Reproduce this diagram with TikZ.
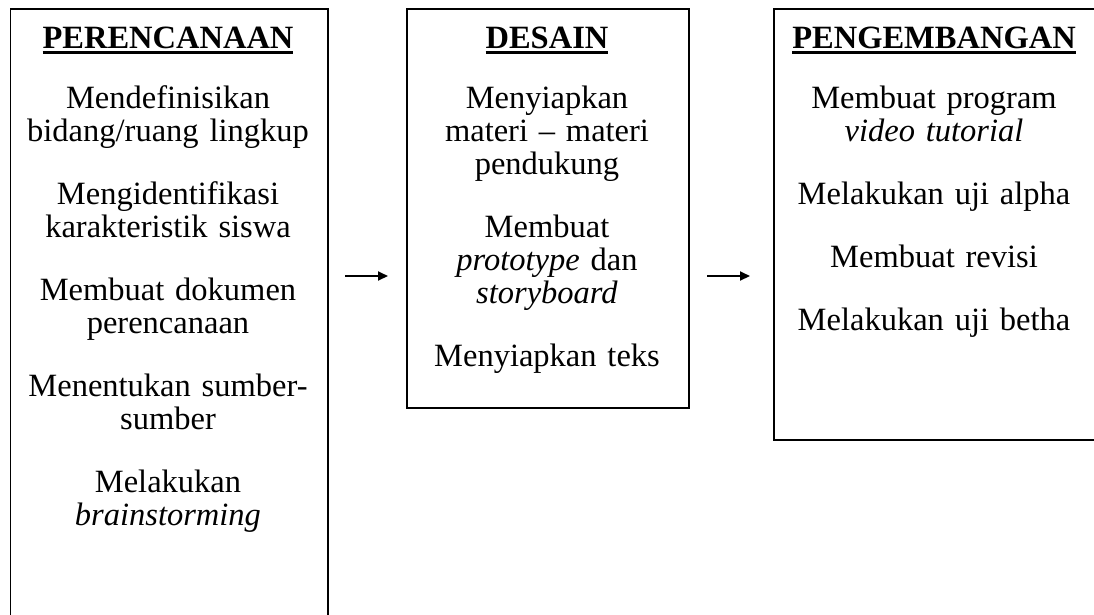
\documentclass[tikz,border=0pt]{standalone}
\usepackage{fontspec}
\setmainfont{Liberation Serif}
\usetikzlibrary{arrows.meta}
\newcommand\mkhd[1]{\setbox0\hbox{\textbf{#1}}\leavevmode\rlap{\rule[-5.5pt]{\wd0}{2.6pt}}\box0}
\begin{document}
\begin{tikzpicture}[x=1pt,y=-1pt,
  frame/.style={draw, line width=1.9pt, anchor=north west, inner sep=0pt},
  txt/.style={anchor=base, align=center, inner sep=0pt, font=\fontsize{32.5}{33}\selectfont},
  flow/.style={-{Triangle[length=10pt,width=9pt]}, line width=1.9pt}]
\useasboundingbox (0,0) rectangle (1094,614);
\node[frame, minimum width=317.5pt, minimum height=620pt] (b1) at (9.5,8) {};
\node[frame, minimum width=282pt, minimum height=399pt] (b2) at (406,8) {};
\node[frame, minimum width=323pt, minimum height=431pt] (b3) at (773,8) {};
\node[txt, text width=317pt] (t1) at (168,48) {\mkhd{PERENCANAAN}\\[27pt]
Mendefinisikan\\ bidang/ruang lingkup\\[30pt]
Mengidentifikasi\\ karakteristik siswa\\[30pt]
Membuat dokumen\\ perencanaan\\[30pt]
Menentukan sumber-\\ sumber\\[30pt]
Melakukan\\ \textit{brainstorming}};
\node[txt, text width=282pt] (t2) at (547,48) {\mkhd{DESAIN}\\[27pt]
Menyiapkan\\ materi -- materi\\ pendukung\\[30pt]
Membuat\\ \textit{prototype} dan\\ \textit{storyboard}\\[30pt]
Menyiapkan teks};
\node[txt, text width=321pt] (t3) at (934,48) {\mkhd{PENGEMBANGAN}\\[27pt]
Membuat program\\ \textit{video tutorial}\\[30pt]
Melakukan uji alpha\\[30pt]
Membuat revisi\\[30pt]
Melakukan uji betha};
\coordinate (a1s) at (345,276);
\coordinate (a1e) at (388,276);
\coordinate (a2s) at (707,276);
\coordinate (a2e) at (750,276);
\draw[flow] (a1s) -- (a1e);
\draw[flow] (a2s) -- (a2e);
\end{tikzpicture}
\end{document}
